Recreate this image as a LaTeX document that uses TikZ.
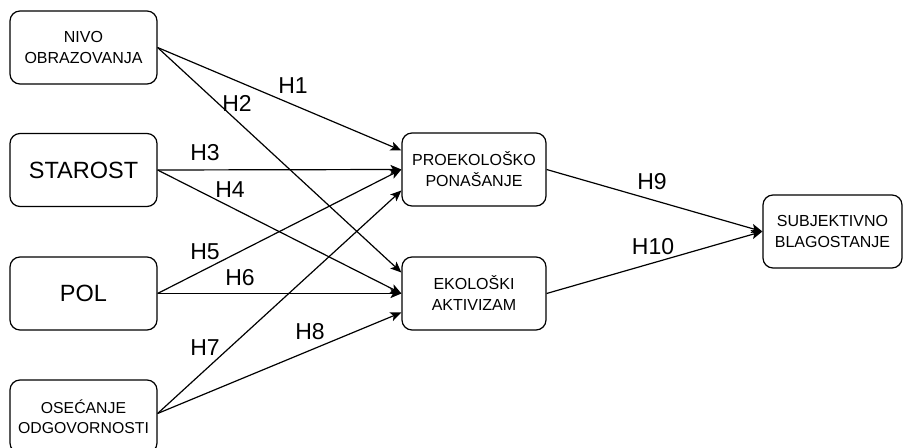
\documentclass[tikz,border=0pt]{standalone}
\usepackage{fontspec}
\setmainfont{Liberation Sans}
\usetikzlibrary{arrows.meta}

\begin{document}
\begin{tikzpicture}[x=0.5pt, y=-0.5pt, line width=0.6pt,
			box/.style={draw, rounded corners=5pt, align=center, minimum height=36.5pt, inner sep=2pt,
				font=\fontsize{8}{10.5}\selectfont},
			big/.style={font=\fontsize{11.75}{14}\selectfont},
			hyp/.style={-{Stealth[length=5.5pt,width=4.6pt,inset=1.3pt]}},
			lbl/.style={inner sep=0pt, font=\fontsize{11.5}{13}\selectfont}]
			\clip (0,0) rectangle (911,448);
			% predictors
			\node [box, minimum width=73.5pt] (nivo) at (83.5,47.5) {NIVO\\OBRAZOVANJA};
			\node [box, big, minimum width=73.5pt] (star) at (83.5,170) {STAROST};
			\node [box, big, minimum width=73.5pt] (pol) at (83.5,293.5) {POL};
			\node [box, minimum width=73.5pt, font=\fontsize{7.9}{10}\selectfont] (odg) at (83.5,416.5) {OSEĆANJE\\ODGOVORNOSTI};
			% mediators and outcome
			\node [box, minimum width=72pt] (pro) at (474,169.5) {PROEKOLOŠKO\\PONAŠANJE};
			\node [box, minimum width=72pt] (eko) at (474,293.5) {EKOLOŠKI\\AKTIVIZAM};
			\node [box, minimum width=69.5pt] (sub) at (832.5,231.5) {SUBJEKTIVNO\\BLAGOSTANJE};
			% paths
			\draw [hyp] (nivo.east) -- ([yshift=9.5pt]pro.west);
			\draw [hyp] (nivo.east) -- ([yshift=10.5pt]eko.west);
			\draw [hyp] (star.east) -- (pro.west);
			\draw [hyp] (star.east) -- (eko.west);
			\draw [hyp] (pol.east) -- (pro.west);
			\draw [hyp] (pol.east) -- (eko.west);
			\draw [hyp] ([yshift=1.5pt]odg.east) -- ([yshift=-10.5pt]pro.west);
			\draw [hyp] ([yshift=1.5pt]odg.east) -- ([yshift=-9.5pt]eko.west);
			\draw [hyp] (pro.east) -- (sub.west);
			\draw [hyp] (eko.east) -- (sub.west);
			% hypotheses
			\node [lbl] (h1) at (293,85.5) {H1};
			\node [lbl] (h2) at (237,103) {H2};
			\node [lbl] (h3) at (205,153) {H3};
			\node [lbl] (h4) at (230,190) {H4};
			\node [lbl] (h5) at (205,252) {H5};
			\node [lbl] (h6) at (240,278) {H6};
			\node [lbl] (h7) at (205,348) {H7};
			\node [lbl] (h8) at (310,332) {H8};
			\node [lbl] (h9) at (652,182) {H9};
			\node [lbl] (h10) at (653,247) {H10};
		\end{tikzpicture}
\end{document}
